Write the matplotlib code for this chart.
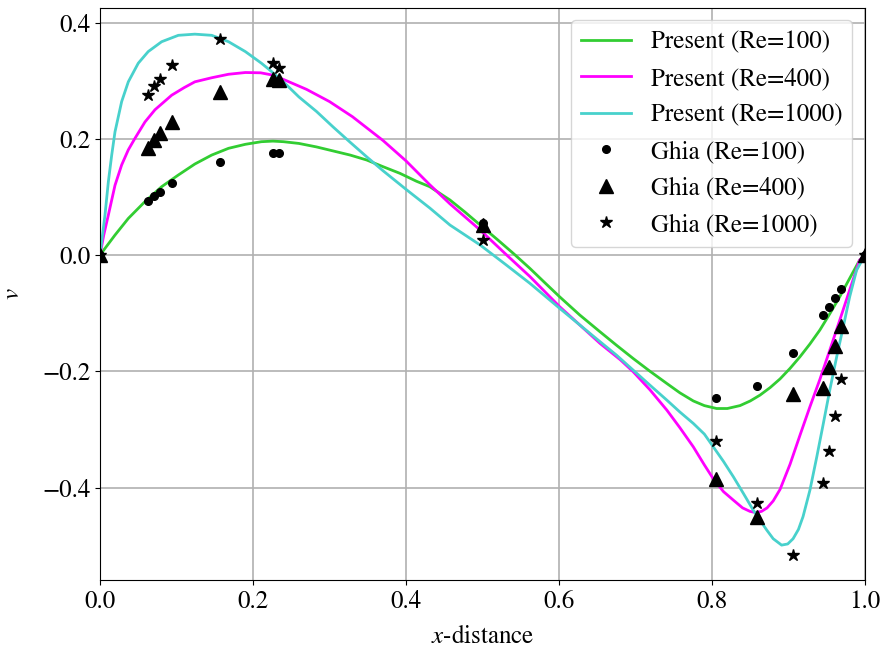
import matplotlib
matplotlib.use('Agg')
import matplotlib.pyplot as plt

# Ghia et al. (1982), v along horizontal centerline
x_ghia = [1.0000, 0.9688, 0.9609, 0.9531, 0.9453, 0.9063, 0.8594, 0.8047, 0.5000,
          0.2344, 0.2266, 0.1563, 0.0938, 0.0781, 0.0703, 0.0625, 0.0000]
v_ghia_100 = [0.0, -0.05906, -0.07391, -0.08864, -0.10313, -0.16914, -0.22445, -0.24533, 0.05454,
              0.17527, 0.17507, 0.16077, 0.12317, 0.10890, 0.10091, 0.09233, 0.0]
v_ghia_400 = [0.0, -0.12146, -0.15663, -0.19254, -0.22847, -0.23827, -0.44993, -0.38598, 0.05188,
              0.30174, 0.30203, 0.28124, 0.22965, 0.20920, 0.19713, 0.18360, 0.0]
v_ghia_1000 = [0.0, -0.21388, -0.27669, -0.33714, -0.39188, -0.51550, -0.42665, -0.31966, 0.02526,
               0.32235, 0.33075, 0.37095, 0.32627, 0.30353, 0.29012, 0.27485, 0.0]

# present results
x_100 = [0.0, 0.0196, 0.037, 0.0588, 0.0806, 0.1024, 0.124, 0.146, 0.168, 0.19, 0.211, 0.226,
         0.2397, 0.26, 0.283, 0.305, 0.327, 0.3486, 0.37, 0.392, 0.4136, 0.431, 0.4575, 0.477,
         0.497, 0.52, 0.541, 0.562, 0.581, 0.601, 0.627, 0.6536, 0.675, 0.697, 0.719, 0.741,
         0.758, 0.7756, 0.79, 0.806, 0.82, 0.8366, 0.85, 0.8627, 0.876, 0.889, 0.902, 0.915,
         0.928, 0.941, 0.954, 0.967, 0.98, 0.993, 1.0]
v_100 = [0.0, 0.0344, 0.063, 0.092, 0.1176, 0.1377, 0.1566, 0.172, 0.1836, 0.1905, 0.195, 0.196,
         0.195, 0.192, 0.186, 0.179, 0.172, 0.1635, 0.152, 0.1406, 0.127, 0.1176, 0.0947, 0.074,
         0.0516, 0.026, 0.002, -0.023, -0.047, -0.072, -0.103, -0.132, -0.155, -0.178, -0.200, -0.221,
         -0.237, -0.251, -0.259, -0.264, -0.264, -0.259, -0.251, -0.241, -0.228, -0.213, -0.195, -0.175,
         -0.153, -0.129, -0.101, -0.0717, -0.04, -0.0086, 0.0]

x_400 = [0.0, 0.005, 0.0109, 0.0196, 0.0283, 0.037, 0.0458, 0.0588, 0.0719, 0.0937, 0.11, 0.124,
         0.146, 0.168, 0.19, 0.21, 0.224, 0.24, 0.27, 0.30, 0.33, 0.37, 0.40, 0.431, 0.4575,
         0.497, 0.53, 0.562, 0.601, 0.6536, 0.68, 0.697, 0.719, 0.741, 0.758, 0.7756, 0.79,
         0.8017, 0.815, 0.828, 0.84, 0.8497, 0.857, 0.8647, 0.872, 0.88, 0.889, 0.902, 0.915,
         0.928, 0.941, 0.954, 0.967, 0.98, 0.993, 1.0]
v_400 = [0.0, 0.035, 0.0688, 0.120, 0.155, 0.181, 0.201, 0.229, 0.250, 0.275, 0.288, 0.298,
         0.305, 0.311, 0.314, 0.3135, 0.310, 0.302, 0.285, 0.264, 0.238, 0.197, 0.162, 0.121, 0.088,
         0.043, 0.002, -0.037, -0.089, -0.152, -0.18, -0.2008, -0.232, -0.2668, -0.297, -0.33, -0.361,
         -0.385, -0.407, -0.4217, -0.435, -0.441, -0.443, -0.441, -0.435, -0.423, -0.403, -0.36, -0.310,
         -0.261, -0.214, -0.1635, -0.112, -0.060, -0.0086, 0.0]

x_1000 = [0.0, 0.0065, 0.0109, 0.0153, 0.0196, 0.0283, 0.037, 0.050, 0.063, 0.0806, 0.1024, 0.124,
          0.146, 0.168, 0.19, 0.211, 0.224, 0.2397, 0.26, 0.283, 0.305, 0.327, 0.3486, 0.37, 0.401,
          0.431, 0.4575, 0.497, 0.53, 0.562, 0.601, 0.6536, 0.675, 0.697, 0.719, 0.741, 0.758,
          0.7756, 0.79, 0.8017, 0.815, 0.828, 0.841, 0.854, 0.8627, 0.8715, 0.88, 0.891, 0.899,
          0.906, 0.913, 0.919, 0.928, 0.937, 0.9455, 0.954, 0.963, 0.9716, 0.98, 0.989, 1.0]
v_1000 = [0.0, 0.0688, 0.126, 0.172, 0.212, 0.264, 0.298, 0.330, 0.350, 0.367, 0.378, 0.380,
          0.378, 0.367, 0.350, 0.330, 0.316, 0.298, 0.272, 0.247, 0.220, 0.194, 0.169, 0.145, 0.112,
          0.081, 0.0516, 0.0172, -0.016, -0.0487, -0.0918, -0.149, -0.172, -0.198, -0.224, -0.2496, -0.270,
          -0.2897, -0.308, -0.33, -0.355, -0.3816, -0.41, -0.439, -0.456, -0.473, -0.488, -0.499, -0.497,
          -0.488, -0.472, -0.450, -0.4045, -0.347, -0.290, -0.232, -0.175, -0.1234, -0.0717, -0.026, 0.0]

plt.rcParams['font.family'] = ['STIXGeneral', 'DejaVu Serif']
plt.rcParams['mathtext.fontset'] = 'stix'
plt.rcParams['font.size'] = 18

fig = plt.figure(figsize=(8.85, 6.5), dpi=100)
ax = fig.add_axes([0.113, 0.1077, 0.8644, 0.88])

ax.plot(x_100, v_100, color='limegreen', lw=2, label='Present (Re=100)')
ax.plot(x_400, v_400, color='magenta', lw=2, label='Present (Re=400)')
ax.plot(x_1000, v_1000, color='mediumturquoise', lw=2, label='Present (Re=1000)')
ax.plot(x_ghia, v_ghia_100, 'ko', ms=5.5, label='Ghia (Re=100)')
ax.plot(x_ghia, v_ghia_400, 'k^', ms=10, label='Ghia (Re=400)')
ax.plot(x_ghia, v_ghia_1000, 'k*', ms=9, label='Ghia (Re=1000)')

ax.set_xlim(0, 1)
ax.set_ylim(-0.559, 0.425)
ax.set_xticks([0.0, 0.2, 0.4, 0.6, 0.8, 1.0])
ax.set_yticks([-0.4, -0.2, 0.0, 0.2, 0.4])
ax.grid(True, color='#b0b0b0', lw=1.2)
ax.set_xlabel('$x$-distance', labelpad=8)
ax.set_ylabel('$v$', labelpad=12)
ax.legend(loc='upper right')

fig.savefig('out.png', dpi=100)
